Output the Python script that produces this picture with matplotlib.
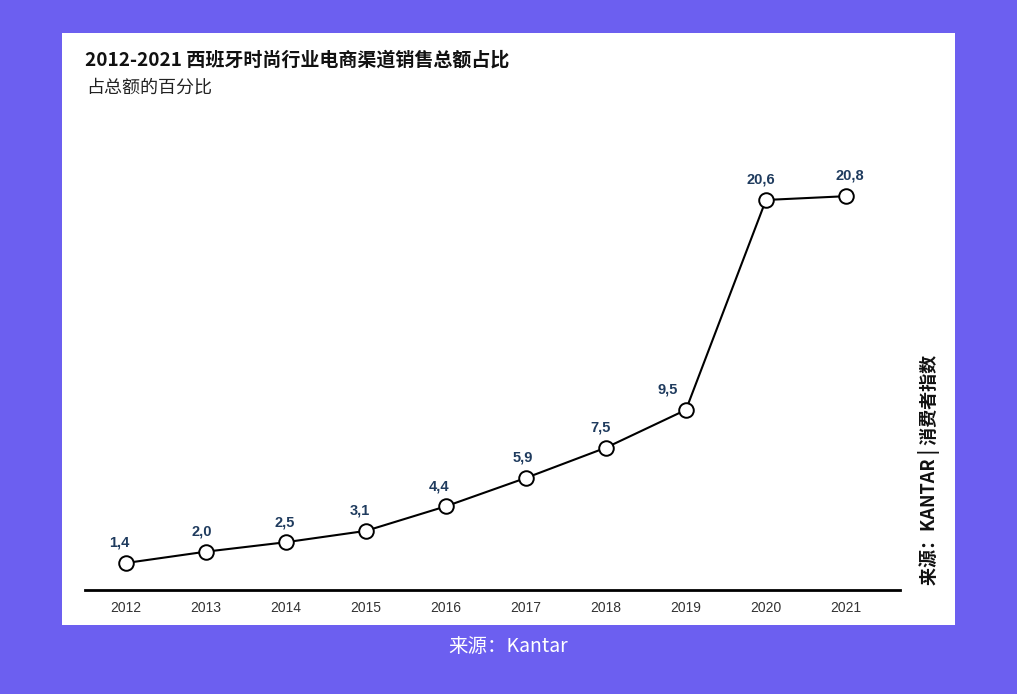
import matplotlib
matplotlib.use('Agg')
import matplotlib.pyplot as plt
from matplotlib.patches import Rectangle

plt.rcParams['font.family'] = ['Noto Sans CJK SC', 'DejaVu Sans']

years = [2012, 2013, 2014, 2015, 2016, 2017, 2018, 2019, 2020, 2021]
share = [1.4, 2.0, 2.5, 3.1, 4.4, 5.9, 7.5, 9.5, 20.6, 20.8]
labels = ['1,4', '2,0', '2,5', '3,1', '4,4', '5,9', '7,5', '9,5', '20,6', '20,8']
# horizontal nudge of each value label (points)
label_dx = [-5, -3, -1, -4, -5, -2, -4, -13, -4, 3]

title = '2012-2021 西班牙时尚行业电商渠道销售总额占比'
subtitle = '占总额的百分比'
side_note = '来源：KANTAR | 消费者指数'
caption = '来源：Kantar'

bg = '#6C5FF0'
W, H = 1017, 694
fig = plt.figure(figsize=(W/100, H/100), dpi=100)
fig.patch.set_facecolor(bg)

# white card
fig.patches.append(Rectangle((62/W, 1-625/H), (955-62)/W, (625-33)/H,
                             transform=fig.transFigure, facecolor='white',
                             edgecolor='none', zorder=-1))

ax = fig.add_axes([85/W, 1-589.5/H, 815/W, (589.5-130)/H])
ax.set_facecolor('none')
ax.set_zorder(1)
ax.plot(years, share, '-o', color='black', lw=1.5, ms=10.5,
        mfc='white', mec='black', mew=1.4, zorder=3)
for x, y, t, dx in zip(years, share, labels, label_dx):
    ax.annotate(t, (x, y), xytext=(dx, 9.5), textcoords='offset points',
                ha='center', va='bottom', fontsize=10.5, fontweight='bold',
                color='#1F3B5E', family=['Liberation Sans', 'DejaVu Sans'])

ax.set_xlim(2011.49, 2021.675)
ax.set_ylim(0, 24.3)
for s in ['top', 'right', 'left']:
    ax.spines[s].set_visible(False)
ax.spines['bottom'].set_linewidth(2)
ax.set_yticks([])
ax.set_xticks(years)
ax.set_xticklabels([str(y) for y in years], family=['Liberation Sans', 'DejaVu Sans'])
ax.tick_params(axis='x', length=0, pad=8, labelsize=10, labelcolor='#333333')

fig.text(85/W, 1-60/H, title, fontsize=13.7, fontweight='bold', color='#111111',
         ha='left', va='center')
fig.text(86/W, 1-88/H, subtitle, fontsize=13, fontweight='medium', color='#222222',
         ha='left', va='center')
fig.text(929/W, 1-470/H, side_note, fontsize=13, fontweight='bold', color='#111111',
         rotation=90, ha='center', va='center')
fig.text(508/W, 1-646/H, caption, fontsize=14, color='white',
         ha='center', va='center')

fig.savefig('out.png', dpi=100, facecolor=bg)
